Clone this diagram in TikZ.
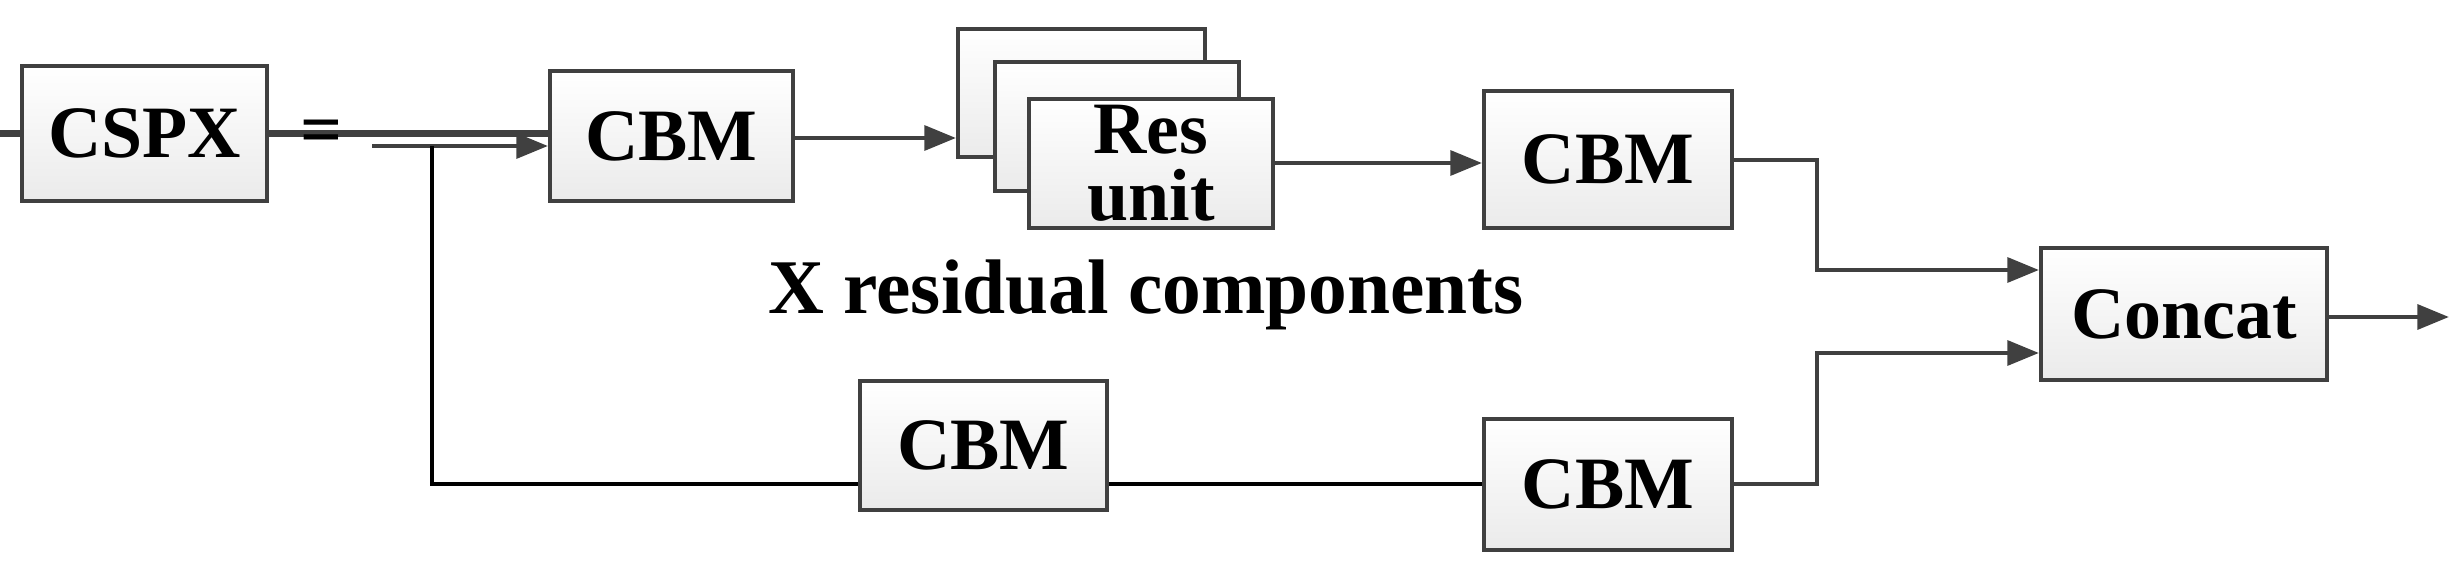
\documentclass[tikz,border=0pt]{standalone}
\usepackage{fontspec}
\setmainfont{Liberation Serif}
\usetikzlibrary{arrows.meta}
\begin{document}
\begin{tikzpicture}[x=0.01cm,y=-0.01cm,
  box/.style={draw=black!75,line width=1.1pt,top color=white,bottom color=black!8,inner sep=0pt,font=\fontsize{21}{20}\selectfont\bfseries},
  ln/.style={draw=black!75,line width=1.3pt},
  ar/.style={ln,-{Triangle[length=9pt,width=7pt]}}]
\useasboundingbox (0,0) rectangle (2462,573);
\node[box,minimum width=245\pgflinewidth] (cspx) at (144.5,133.5) {};
\node[box,minimum width=2.45cm,minimum height=1.35cm] (cspx) at (144.5,133.5) {CSPX};
\node[font=\fontsize{21}{20}\selectfont\bfseries] (eq) at (322,137) {=};
\coordinate (in) at (372,146);
\coordinate (sp) at (432,146);
\node[box,minimum width=2.43cm,minimum height=1.30cm] (cbm1) at (671.5,136) {CBM};
\node[box,minimum width=2.47cm,minimum height=1.28cm] (r1) at (1081.5,93) {};
\node[box,minimum width=2.44cm,minimum height=1.29cm] (r2) at (1117,126.5) {};
\node[box,minimum width=2.44cm,minimum height=1.29cm,align=center,font=\fontsize{21}{19}\selectfont\bfseries] (r3) at (1151,163.5) {Res\\unit};
\node[box,minimum width=2.48cm,minimum height=1.37cm] (cbm2) at (1608,159.5) {CBM};
\node[box,minimum width=2.86cm,minimum height=1.32cm] (cat) at (2184,314) {Concat};
\node[box,minimum width=2.47cm,minimum height=1.29cm] (cbm3) at (983.5,445.5) {CBM};
\node[box,minimum width=2.48cm,minimum height=1.31cm] (cbm4) at (1608,484.5) {CBM};
\node[font=\fontsize{22}{22}\selectfont\bfseries] (lbl) at (1146,295) {X residual components};
\coordinate (out) at (2449,317);
\draw[ar] (in) -- (cbm1.west|-in);
\draw[ar] (cbm1.east|-0,138) -- (r1.west|-0,138);
\draw[ar] (r3.east|-0,163) -- (cbm2.west|-0,163);
\draw[ar] (cbm2.east|-0,160) -| (1817,270) -- (cat.west|-0,270);
\draw[ar] (cbm4.east|-0,484) -| (1817,353) -- (cat.west|-0,353);
\draw[ar] (cat.east|-out) -- (out);
\draw[line width=1.3pt,black] (sp) |- (cbm3.west|-0,484);
\draw[line width=1.3pt,black] (cbm3.east|-0,484) -- (cbm4.west|-0,484);
\end{tikzpicture}
\end{document}
